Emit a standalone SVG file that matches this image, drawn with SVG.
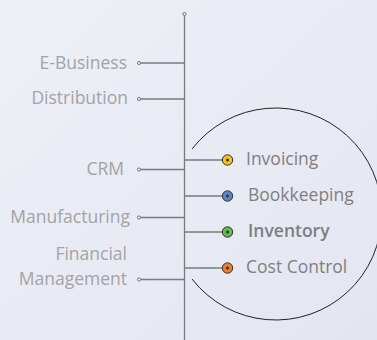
<svg xmlns="http://www.w3.org/2000/svg" width="377" height="340" viewBox="0 0 377 340">
<defs>
<linearGradient id="bg" x1="0" y1="0" x2="1" y2="1">
<stop offset="0" stop-color="#eef0f7"/>
<stop offset="1" stop-color="#e3e6f1"/>
</linearGradient>
</defs>
<style>
.ln{stroke:#7a7a7a;stroke-width:1.3;fill:none}
.end{fill:#eceef6;stroke:#7a7a7a;stroke-width:1}
.lt{font-family:"Open Sans","Noto Sans",sans-serif;font-size:17.5px;fill:#a3a3a3;text-anchor:end}
.rt{font-family:"Open Sans","Noto Sans",sans-serif;font-size:17.5px;fill:#7f7f7f}
.dot{stroke:#333;stroke-width:1}
.ctr{fill:#333}
.arc{fill:none;stroke:#222;stroke-width:1}
</style>
<rect width="377" height="340" fill="url(#bg)"/>
<g id="connectors">
<line class="ln" x1="184.5" y1="14" x2="184.5" y2="340"/>
<line class="ln" x1="139" y1="63" x2="184.5" y2="63"/>
<line class="ln" x1="139" y1="99" x2="184.5" y2="99"/>
<line class="ln" x1="139" y1="169.5" x2="184.5" y2="169.5"/>
<line class="ln" x1="139" y1="217.5" x2="184.5" y2="217.5"/>
<line class="ln" x1="139" y1="279.5" x2="184.5" y2="279.5"/>
<line class="ln" x1="184.5" y1="160" x2="222" y2="160"/>
<line class="ln" x1="184.5" y1="196" x2="222" y2="196"/>
<line class="ln" x1="184.5" y1="232" x2="222" y2="232"/>
<line class="ln" x1="184.5" y1="268" x2="222" y2="268"/>
<circle class="end" cx="184.5" cy="14" r="1.6"/>
<circle class="end" cx="139" cy="63" r="1.6"/>
<circle class="end" cx="139" cy="99" r="1.6"/>
<circle class="end" cx="139" cy="169.5" r="1.6"/>
<circle class="end" cx="139" cy="217.5" r="1.6"/>
<circle class="end" cx="139" cy="279.5" r="1.6"/>
</g>
<path class="arc" d="M 192 149 A 106 106 0 1 1 192 279"/>
<g id="e-business"><text class="lt" x="127" y="69">E-Business</text></g>
<g id="distribution"><text class="lt" x="128" y="104">Distribution</text></g>
<g id="crm"><text class="lt" x="124" y="175">CRM</text></g>
<g id="manufacturing"><text class="lt" x="130" y="223">Manufacturing</text></g>
<g id="financial-management"><text class="lt" x="127" y="260">Financial</text><text class="lt" x="127" y="285">Management</text></g>
<g id="invoicing"><circle class="dot" cx="227.5" cy="160" r="5.2" fill="#f5c40f"/><circle class="ctr" cx="227.5" cy="160" r="1.5"/><text class="rt" x="246" y="165">Invoicing</text></g>
<g id="bookkeeping"><circle class="dot" cx="227.5" cy="196" r="5.2" fill="#5b86c8"/><circle class="ctr" cx="227.5" cy="196" r="1.5"/><text class="rt" x="248" y="201">Bookkeeping</text></g>
<g id="inventory"><circle class="dot" cx="227.5" cy="232" r="5.2" fill="#5cbf4c"/><circle class="ctr" cx="227.5" cy="232" r="1.5"/><text class="rt" x="248" y="237" font-weight="600">Inventory</text></g>
<g id="cost-control"><circle class="dot" cx="227.5" cy="268" r="5.2" fill="#f07b28"/><circle class="ctr" cx="227.5" cy="268" r="1.5"/><text class="rt" x="246" y="273">Cost Control</text></g>
</svg>
